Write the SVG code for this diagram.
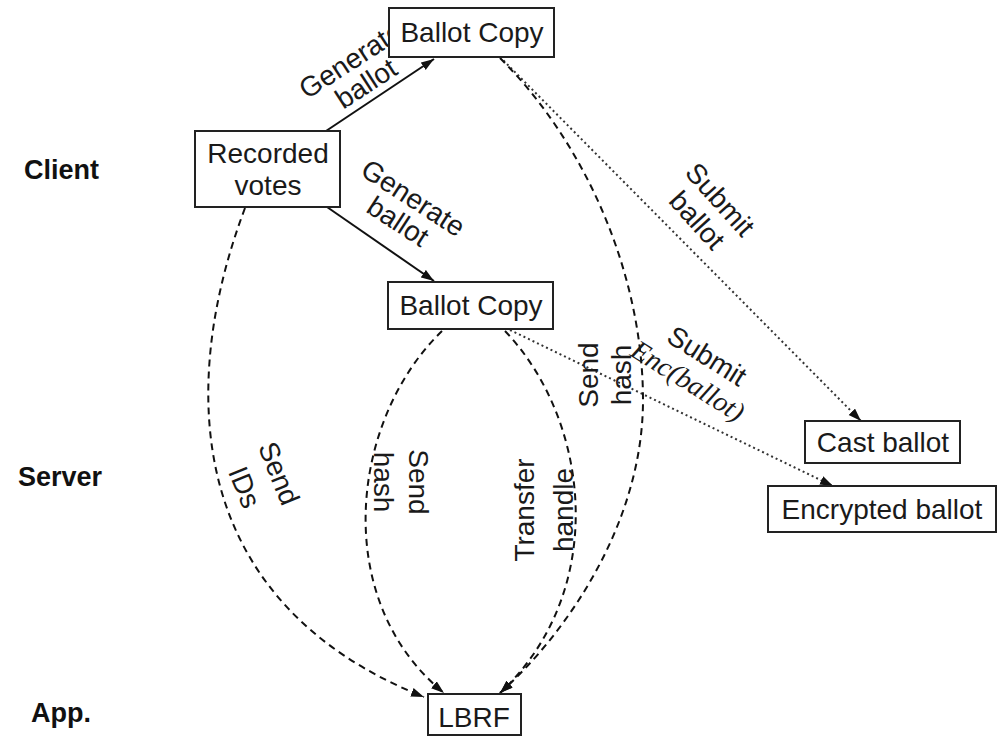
<svg xmlns="http://www.w3.org/2000/svg" width="1003" height="737" viewBox="0 0 1003 737">
<style>
.box{fill:#fff;stroke:#222;stroke-width:2}
.t{font-family:"Liberation Sans",Arial,sans-serif;font-size:28px;fill:#1a1a1a;text-anchor:middle}
.lane{font-family:"Liberation Sans",Arial,sans-serif;font-size:27px;font-weight:bold;fill:#111}
.em{font-family:"Liberation Serif","Times New Roman",serif;font-style:italic;font-size:28px;fill:#1a1a1a;text-anchor:middle}
.solid{fill:none;stroke:#111;stroke-width:2}
.dash{fill:none;stroke:#111;stroke-width:2;stroke-dasharray:7,5}
.dot{fill:none;stroke:#333;stroke-width:2;stroke-dasharray:2,3}
</style>
<defs>
<marker id="ah" markerUnits="userSpaceOnUse" markerWidth="14" markerHeight="10" refX="13" refY="4.5" orient="auto">
<path d="M0,0 L13,4.5 L0,9 z" fill="#111"/>
</marker>
</defs>
<rect width="1003" height="737" fill="#fff"/>
<g id="lanes">
<text class="lane" x="24" y="179">Client</text>
<text class="lane" x="18" y="486">Server</text>
<text class="lane" x="31" y="722">App.</text>
</g>
<g id="connectors">
<path class="solid" d="M326,131 L434,59" marker-end="url(#ah)"/>
<path class="solid" d="M327,207 L434,281" marker-end="url(#ah)"/>
<path class="dot" d="M500,57 L861,421" marker-end="url(#ah)"/>
<path class="dot" d="M510,330 L833,486" marker-end="url(#ah)"/>
<path class="dash" d="M500,58 C590,148 643,280 643,400 C643,520 570,630 500,693" marker-end="url(#ah)"/>
<path class="dash" d="M505,331 C590,420 610,590 500,693" marker-end="url(#ah)"/>
<path class="dash" d="M442,331 C350,420 330,600 444,693" marker-end="url(#ah)"/>
<path class="dash" d="M245,208 C180,380 180,600 424,697" marker-end="url(#ah)"/>
</g>
<g id="edge-labels">
<g transform="translate(356,68) rotate(-33)"><text class="t" x="0" y="0">Generate</text><text class="t" x="0" y="28">ballot</text></g>
<g transform="translate(408,206) rotate(33)"><text class="t" x="0" y="0">Generate</text><text class="t" x="0" y="28">ballot</text></g>
<g transform="translate(713,206) rotate(48)"><text class="t" x="0" y="0">Submit</text><text class="t" x="0" y="31">ballot</text></g>
<g transform="translate(702,364) rotate(32)"><text class="t" x="0" y="0">Submit</text><text class="em" x="-3" y="31">Enc(ballot)</text></g>
<g transform="translate(598,375) rotate(-90)"><text class="t" x="0" y="0">Send</text><text class="t" x="0" y="33">hash</text></g>
<g transform="translate(534,510) rotate(-90)"><text class="t" x="0" y="0">Transfer</text><text class="t" x="0" y="39">handle</text></g>
<g transform="translate(409,482) rotate(90)"><text class="t" x="0" y="0">Send</text><text class="t" x="0" y="35">hash</text></g>
<g transform="translate(270,477) rotate(68)"><text class="t" x="0" y="0">Send</text><text class="t" x="0" y="37">IDs</text></g>
</g>
<g id="node-ballot-copy-top"><rect class="box" x="389" y="8" width="165" height="49"/><text class="t" x="472" y="42">Ballot Copy</text></g>
<g id="node-recorded-votes"><rect class="box" x="195" y="131" width="145" height="76"/><text class="t" x="268" y="163">Recorded</text><text class="t" x="268" y="195">votes</text></g>
<g id="node-ballot-copy-mid"><rect class="box" x="388" y="282" width="165" height="47"/><text class="t" x="471" y="315">Ballot Copy</text></g>
<g id="node-cast-ballot"><rect class="box" x="805" y="421" width="155" height="42"/><text class="t" x="883" y="452">Cast ballot</text></g>
<g id="node-encrypted-ballot"><rect class="box" x="768" y="486" width="228" height="46"/><text class="t" x="882" y="519">Encrypted ballot</text></g>
<g id="node-lbrf"><rect class="box" x="428" y="694" width="93" height="41"/><text class="t" x="474" y="727">LBRF</text></g>
</svg>
